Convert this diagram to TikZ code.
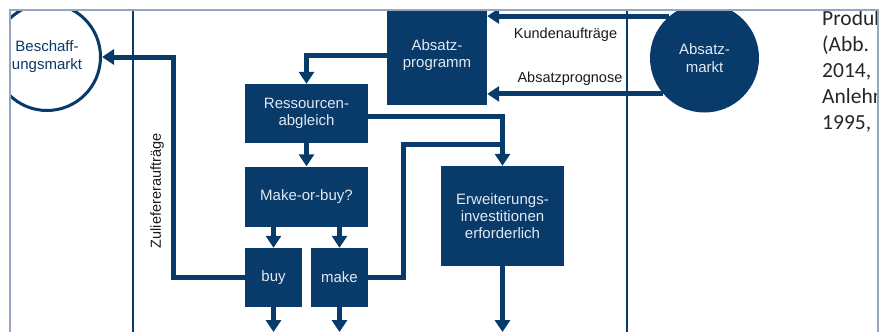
\documentclass[tikz,border=0pt]{standalone}
\usepackage{fontspec}
\setmainfont{Liberation Sans}
\newfontfamily\carlito{Carlito}
\usetikzlibrary{arrows.meta}
\definecolor{dunkelblau}{RGB}{8,58,106}
\definecolor{kastentext}{RGB}{226,233,241}
\definecolor{rahmen}{RGB}{150,166,194}
\tikzset{
	kasten/.style={fill=dunkelblau,text=kastentext,align=center,inner sep=0,font=\fontsize{15}{17}\selectfont},
	markt/.style={circle,inner sep=0,align=center,font=\fontsize{15}{18}\selectfont},
	pfeil/.style={draw=dunkelblau,line width=5pt,-{Triangle[width=15pt,length=12pt]}},
	linie/.style={draw=dunkelblau,line width=5pt},
	trenner/.style={draw=dunkelblau,line width=2.5pt},
	beschriftung/.style={inner sep=0,text=black!90,font=\fontsize{14.5}{17}\selectfont},
	randtext/.style={anchor=base west,inner sep=0,text=black!85,font=\carlito\fontsize{21.5}{26}\selectfont},
}
\begin{document}
\begin{tikzpicture}[x=1pt,y=-1pt]
	\useasboundingbox (0,0) rectangle (889,332);
	\begin{scope}
		\clip (10,10) rectangle (878,340);
		\draw [trenner] (133,10) -- (133,340);
		\draw [trenner] (627,10) -- (627,340);
		\node [kasten,minimum width=100,minimum height=100] (absprog) at (437,55) {Absatz-\\programm};
		\node [kasten,minimum width=123,minimum height=59] (ressourcen) at (306.5,113.5) {Ressourcen-\\abgleich};
		\node [kasten,minimum width=123,minimum height=60] (makeorbuy) at (306.5,196.5) {Make-or-buy?};
		\node [kasten,minimum width=57,minimum height=59] (buy) at (273.5,277.5) {buy};
		\node [kasten,minimum width=57,minimum height=59] (make) at (339.5,277.5) {make};
		\node [kasten,minimum width=123,minimum height=100] (erweiterung) at (502.5,216) {Erweiterungs-\\investitionen\\erforderlich};
		\node [markt,draw=dunkelblau,line width=3pt,fill=white,text=dunkelblau,minimum size=107] (beschaffung) at (47,57) {Beschaff-\\ungsmarkt};
		\node [markt,fill=dunkelblau,text=kastentext,minimum size=109] (absmarkt) at (704.5,58) {Absatz-\\markt};
		\coordinate (unten) at (0,332);
		\coordinate (zl) at (173.5,0);
		\coordinate (mk) at (403,144);
		\draw [pfeil] (absmarkt.130) -- (absmarkt.130 -| absprog.east) node [beschriftung,pos=0.57,below=9pt] {Kundenaufträge};
		\draw [pfeil] (absmarkt.221) -- (absmarkt.221 -| absprog.east) node [beschriftung,pos=0.53,above=6pt] {Absatzprognose};
		\draw [pfeil] (absprog.west) -| (ressourcen.north);
		\draw [pfeil] ([yshift=-2.5pt]ressourcen.east) -| (erweiterung.north);
		\draw [pfeil] (ressourcen.south) -- (makeorbuy.north);
		\draw [pfeil] (makeorbuy.south -| buy) -- (buy.north);
		\draw [pfeil] (makeorbuy.south -| make) -- (make.north);
		\draw [pfeil] (buy.west) -- (buy.west -| zl) |- (beschaffung.east);
		\node [beschriftung,rotate=90] (zulieferer) at (157,191) {Zuliefereraufträge};
		\draw [linie] (make.east) -| (mk) -- (mk -| erweiterung.north);
		\draw [pfeil] (buy.south) -- (buy.south |- unten);
		\draw [pfeil] (make.south) -- (make.south |- unten);
		\draw [pfeil] (erweiterung.south) -- (erweiterung.south |- unten);
	\end{scope}
	\begin{scope}
		\clip (10,10) rectangle (877.5,340);
		\node [randtext] (rand1) at (822,25) {Produk};
		\node [randtext] (rand2) at (822,51) {(Abb.};
		\node [randtext] (rand3) at (822,77) {2014,};
		\node [randtext] (rand4) at (822,103) {Anlehn};
		\node [randtext] (rand5) at (822,129) {1995,};
	\end{scope}
	\draw [rahmen,line width=1.3pt] (10,340) -- (10,10) -- (878,10) -- (878,340);
\end{tikzpicture}
\end{document}
